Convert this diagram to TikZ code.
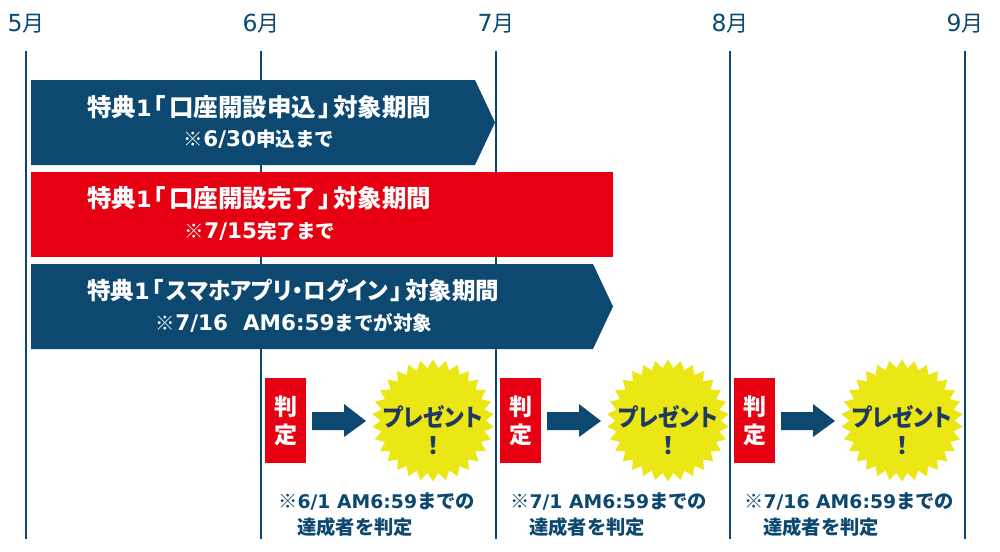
\documentclass[tikz,border=0pt]{standalone}
\usepackage{fontspec}
\setmainfont{DejaVu Sans}
\newfontfamily\cjk[RawFeature=+palt]{Noto Sans CJK JP}
\newfontfamily\cjkfull{Noto Sans CJK JP}
\usetikzlibrary{shapes.geometric}
\definecolor{navyblue}{HTML}{0C4870}
\definecolor{bannerred}{HTML}{E60012}
\definecolor{burstyellow}{HTML}{EBE714}
\definecolor{burstink}{HTML}{1F3864}
\newcommand{\jpsize}{20}
\newcommand{\jp}[1]{{\cjk\fontsize{\jpsize}{\jpsize}\selectfont #1}}
\newcommand{\jf}[1]{{\cjkfull\fontsize{\jpsize}{\jpsize}\selectfont #1}}
\newcommand{\lbrk}{\hspace{2pt}\jp{「}\hspace{3pt}}
\newcommand{\rbrk}{\hspace{3pt}\jp{」}\hspace{2pt}}
\tikzset{
  monthlabel/.style={navyblue, inner sep=0pt, font=\def\jpsize{22}\fontsize{23.5}{24}\selectfont},
  monthline/.style={navyblue, line width=2pt},
  bartitle/.style={text=white, anchor=west, inner sep=0pt, font=\def\jpsize{24.5}\fontsize{22.5}{24}\selectfont\bfseries},
  barnote/.style={text=white, inner sep=0pt, font=\def\jpsize{19.5}\fontsize{21.5}{20}\selectfont\bfseries},
  judgebox/.style={fill=bannerred, draw=none, minimum width=41pt, minimum height=85pt, inner sep=0pt, text=white, align=center, font=\def\jpsize{23}\fontsize{23}{28}\selectfont\bfseries},
  burst/.style={star, star points=30, star point ratio=1.16, fill=burstyellow, draw=none, minimum size=122pt, inner sep=0pt},
  bursttext/.style={text=burstink, inner sep=0pt, font=\def\jpsize{24}\fontsize{24}{24}\selectfont\bfseries},
  blockarrow/.style={fill=navyblue, draw=none},
  caption/.style={text=navyblue, anchor=west, inner sep=0pt, font=\def\jpsize{19.3}\fontsize{18.8}{20}\selectfont\bfseries}
}
\begin{document}
\begin{tikzpicture}[x=1pt, y=-1pt]
\useasboundingbox (0,0) rectangle (1000,551);
\node[monthlabel] (m5) at (26,24) {5\jp{月}};
\node[monthlabel] (m6) at (261,24) {6\jp{月}};
\node[monthlabel] (m7) at (496,24) {7\jp{月}};
\node[monthlabel] (m8) at (730,24) {8\jp{月}};
\node[monthlabel] (m9) at (965,24) {9\jp{月}};
\draw[monthline] (26,51) -- (26,539);
\draw[monthline] (261,51) -- (261,539);
\draw[monthline] (496,51) -- (496,539);
\draw[monthline] (730,51) -- (730,539);
\draw[monthline] (965,51) -- (965,539);
\fill[navyblue] (31,80) -- (475,80) -- (495,122.5) -- (475,165) -- (31,165) -- cycle;
\fill[bannerred] (31,172) rectangle (613,257);
\fill[navyblue] (31,264) -- (593,264) -- (613,306.5) -- (593,349) -- (31,349) -- cycle;
\node[bartitle] (t1) at (87,107.5) {\jp{特典}1\lbrk\jp{口座開設申込}\rbrk\jp{対象期間}};
\node[barnote] (n1) at (259,139) {\jf{※}6/30\jf{申込まで}};
\node[bartitle] (t2) at (87,198.5) {\jp{特典}1\lbrk\jp{口座開設完了}\rbrk\jp{対象期間}};
\node[barnote] (n2) at (260,231) {\jf{※}7/15\jf{完了まで}};
\node[bartitle] (t3) at (87,290.5) {\def\jpsize{23.5}\jp{特典}1\lbrk\scalebox{.96}[1]{\jp{スマホアプリ・ログイン}}\rbrk\jp{対象期間}};
\node[barnote] (n3) at (294,323) {\jf{※}7/16\ \ AM6:59\jf{までが対象}};
% judging rounds
\node[judgebox] (j1) at (285.5,420.5) {\raisebox{-2pt}{\jp{判}}\\\raisebox{-2pt}{\jp{定}}};
\fill[blockarrow] (312,412) -- (344,412) -- (344,404) -- (366,421) -- (344,437) -- (344,430) -- (312,430) -- cycle;
\node[burst] (b1) at (433,420.5) {};
\node[bursttext] (p1) at (433,417) {\scalebox{.9}[1]{\jp{プレゼント}}};
\node[bursttext] (e1) at (433,446) {\jp{！}};
\node[caption] (c1) at (278,501) {\jf{※}6/1 AM6:59\jf{までの}};
\node[caption] (d1) at (297,527) {\jf{達成者を判定}};
\node[judgebox] (j2) at (520.5,420.5) {\raisebox{-2pt}{\jp{判}}\\\raisebox{-2pt}{\jp{定}}};
\fill[blockarrow] (547,412) -- (579,412) -- (579,404) -- (601,421) -- (579,437) -- (579,430) -- (547,430) -- cycle;
\node[burst] (b2) at (668,420.5) {};
\node[bursttext] (p2) at (668,417) {\scalebox{.9}[1]{\jp{プレゼント}}};
\node[bursttext] (e2) at (668,446) {\jp{！}};
\node[caption] (c2) at (510,501) {\jf{※}7/1 AM6:59\jf{までの}};
\node[caption] (d2) at (529,527) {\jf{達成者を判定}};
\node[judgebox] (j3) at (754.5,420.5) {\raisebox{-2pt}{\jp{判}}\\\raisebox{-2pt}{\jp{定}}};
\fill[blockarrow] (781,412) -- (813,412) -- (813,404) -- (835,421) -- (813,437) -- (813,430) -- (781,430) -- cycle;
\node[burst] (b3) at (902,420.5) {};
\node[bursttext] (p3) at (902,417) {\scalebox{.9}[1]{\jp{プレゼント}}};
\node[bursttext] (e3) at (902,446) {\jp{！}};
\node[caption] (c3) at (744,501) {\jf{※}7/16 AM6:59\jf{までの}};
\node[caption] (d3) at (763,527) {\jf{達成者を判定}};
\end{tikzpicture}
\end{document}
